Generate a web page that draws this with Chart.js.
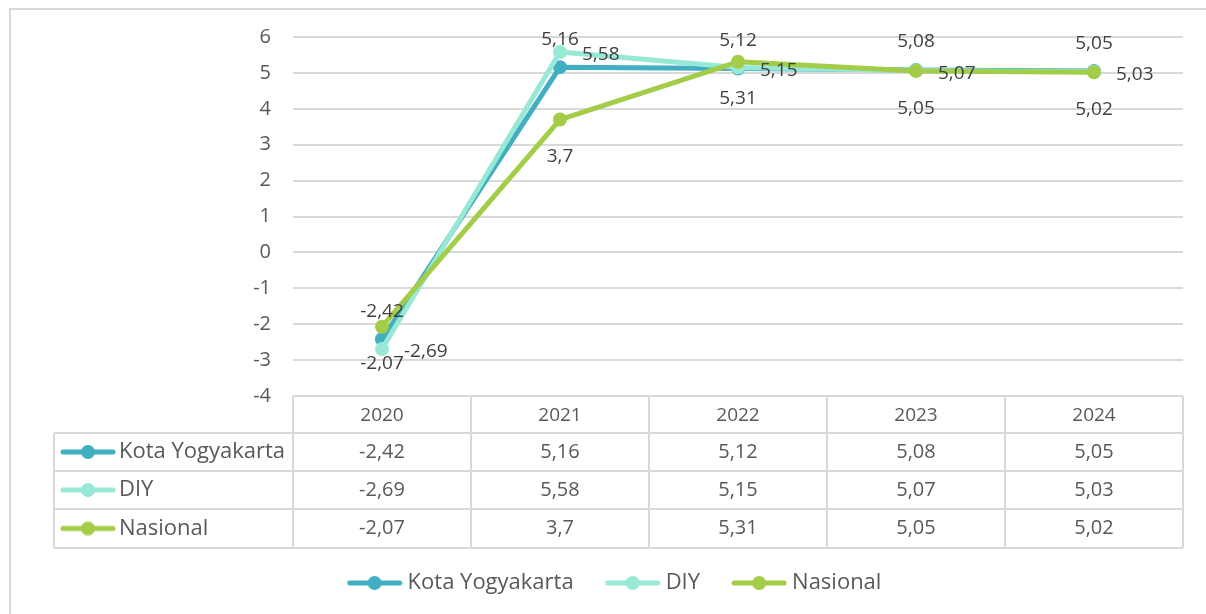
<!DOCTYPE html>
<html>
<head>
<meta charset="utf-8">
<script src="https://cdn.jsdelivr.net/npm/chart.js@4.4.1/dist/chart.umd.min.js"></script>
<style>
  html, body { margin: 0; padding: 0; background: #fff; }
  #wrap { width: 1206px; height: 614px; }
</style>
</head>
<body>
<div id="wrap"><canvas id="pertumbuhanChart" width="1206" height="614"></canvas></div>
<script>
// data
const years = ['2020', '2021', '2022', '2023', '2024'];
const seriesNames = ['Kota Yogyakarta', 'DIY', 'Nasional'];
const kotaValues = [-2.42, 5.16, 5.12, 5.08, 5.05];
const diyValues = [-2.69, 5.58, 5.15, 5.07, 5.03];
const nasionalValues = [-2.07, 3.7, 5.31, 5.05, 5.02];
const yTicks = [6, 5, 4, 3, 2, 1, 0, -1, -2, -3, -4];

const colors = ['#41aec1', '#98e8d6', '#a3cd48'];
const labelPos = ['above', 'right', 'below'];
const fontFamily = '"Open Sans", "DejaVu Sans", sans-serif';
const textColor = '#595959';
const lineGrey = '#d9d9d9';

const fmt = v => String(v).replace('.', ',');

// small line+dot icon used in the legend and in the table
function makeIcon(color) {
    const c = document.createElement('canvas');
    c.width = 56;
    c.height = 16;
    const g = c.getContext('2d');
    g.strokeStyle = color;
    g.lineWidth = 5;
    g.lineCap = 'round';
    g.beginPath();
    g.moveTo(3, 8);
    g.lineTo(53, 8);
    g.stroke();
    g.fillStyle = color;
    g.beginPath();
    g.arc(28, 8, 7, 0, Math.PI * 2);
    g.fill();
    return c;
}
const icons = colors.map(makeIcon);

const allValues = [kotaValues, diyValues, nasionalValues];

const dataLabelsPlugin = {
    id: 'dataLabels',
    afterDatasetsDraw(chart) {
        const ctx = chart.ctx;
        ctx.save();
        ctx.font = '19px ' + fontFamily;
        ctx.fillStyle = '#404040';
        ctx.textBaseline = 'middle';
        chart.data.datasets.forEach((ds, i) => {
            const meta = chart.getDatasetMeta(i);
            meta.data.forEach((pt, j) => {
                const txt = fmt(ds.data[j]);
                if (labelPos[i] === 'above') {
                    ctx.textAlign = 'center';
                    ctx.fillText(txt, pt.x, pt.y - 28);
                } else if (labelPos[i] === 'right') {
                    ctx.textAlign = 'left';
                    ctx.fillText(txt, pt.x + 22, pt.y + 3);
                } else {
                    ctx.textAlign = 'center';
                    ctx.fillText(txt, pt.x, pt.y + 37);
                }
            });
        });
        ctx.restore();
    }
};

// frame + data table under the plot
const tablePlugin = {
    id: 'dataTable',
    beforeDraw(chart) {
        const ctx = chart.ctx;
        ctx.save();
        ctx.fillStyle = '#fff';
        ctx.fillRect(0, 0, chart.width, chart.height);
        ctx.strokeStyle = lineGrey;
        ctx.lineWidth = 2;
        ctx.strokeRect(10, 9, chart.width + 20, chart.height + 20);
        ctx.restore();
    },
    afterDraw(chart) {
        const ctx = chart.ctx;
        const xs = chart.scales.x;
        const area = chart.chartArea;
        const colW = xs.getPixelForValue(1) - xs.getPixelForValue(0);
        const top = area.bottom;
        const rowTops = [top, 433, 471, 509, 548];
        const tableLeft = 54;

        ctx.save();
        ctx.strokeStyle = lineGrey;
        ctx.lineWidth = 2;
        ctx.beginPath();
        // horizontal lines
        ctx.moveTo(area.left, rowTops[0]);
        ctx.lineTo(area.right, rowTops[0]);
        for (let r = 1; r < rowTops.length; r++) {
            ctx.moveTo(tableLeft, rowTops[r]);
            ctx.lineTo(area.right, rowTops[r]);
        }
        // vertical lines
        ctx.moveTo(tableLeft, rowTops[1]);
        ctx.lineTo(tableLeft, rowTops[4]);
        for (let c = 0; c <= years.length; c++) {
            const x = c === years.length ? area.right : xs.getPixelForValue(c) - colW / 2;
            ctx.moveTo(x, rowTops[0]);
            ctx.lineTo(x, rowTops[4]);
        }
        ctx.stroke();

        ctx.fillStyle = textColor;
        ctx.textBaseline = 'middle';
        ctx.textAlign = 'center';
        ctx.font = '19px ' + fontFamily;
        years.forEach((y, c) => {
            ctx.fillText(y, xs.getPixelForValue(c), (rowTops[0] + rowTops[1]) / 2 + 1);
        });
        allValues.forEach((vals, r) => {
            const cy = (rowTops[r + 1] + rowTops[r + 2]) / 2;
            ctx.textAlign = 'center';
            ctx.font = '20px ' + fontFamily;
            vals.forEach((v, c) => {
                ctx.fillText(fmt(v), xs.getPixelForValue(c), cy);
            });
            ctx.drawImage(icons[r], 60, cy - 8);
            ctx.textAlign = 'left';
            ctx.font = '22px ' + fontFamily;
            ctx.fillText(seriesNames[r], 119, cy);
        });
        ctx.restore();
    }
};

const ctx = document.getElementById('pertumbuhanChart').getContext('2d');

new Chart(ctx, {
    type: 'line',
    data: {
        labels: years,
        datasets: [
            {
                label: seriesNames[0],
                data: kotaValues,
                borderColor: colors[0],
                backgroundColor: colors[0],
                order: 3,
            },
            {
                label: seriesNames[1],
                data: diyValues,
                borderColor: colors[1],
                backgroundColor: colors[1],
                order: 2,
            },
            {
                label: seriesNames[2],
                data: nasionalValues,
                borderColor: colors[2],
                backgroundColor: colors[2],
                order: 1,
            },
        ],
    },
    options: {
        responsive: false,
        animation: false,
        devicePixelRatio: 1,
        layout: {
            padding: { left: 51, right: 23, top: 37, bottom: 10 },
        },
        elements: {
            line: { borderWidth: 5, tension: 0, borderCapStyle: 'round', borderJoinStyle: 'round' },
            point: { pointStyle: 'circle', radius: 7, hoverRadius: 7, borderWidth: 0 },
        },
        scales: {
            x: {
                offset: true,
                grid: { display: false },
                border: { display: false },
                ticks: { display: false },
                afterFit(scale) {
                    scale.height = 139;
                },
            },
            y: {
                min: -4,
                max: 6,
                afterBuildTicks(scale) {
                    scale.ticks = yTicks.map(v => ({ value: v }));
                },
                grid: { color: lineGrey, lineWidth: 2, drawTicks: false },
                border: { display: false },
                ticks: {
                    padding: 22,
                    color: textColor,
                    font: { family: fontFamily, size: 20 },
                    callback: v => fmt(v),
                },
                afterFit(scale) {
                    scale.width = 242;
                },
            },
        },
        plugins: {
            legend: {
                position: 'bottom',
                labels: {
                    usePointStyle: true,
                    pointStyleWidth: 44,
                    padding: 37,
                    color: textColor,
                    font: { family: fontFamily, size: 22 },
                    generateLabels(chart) {
                        return chart.data.datasets.map((ds, i) => ({
                            text: ds.label,
                            pointStyle: icons[i],
                            fillStyle: colors[i],
                            strokeStyle: colors[i],
                            lineWidth: 0,
                            fontColor: textColor,
                            hidden: false,
                            datasetIndex: i,
                        }));
                    },
                },
            },
            tooltip: { enabled: false },
        },
    },
    plugins: [tablePlugin, dataLabelsPlugin],
});
</script>
</body>
</html>
